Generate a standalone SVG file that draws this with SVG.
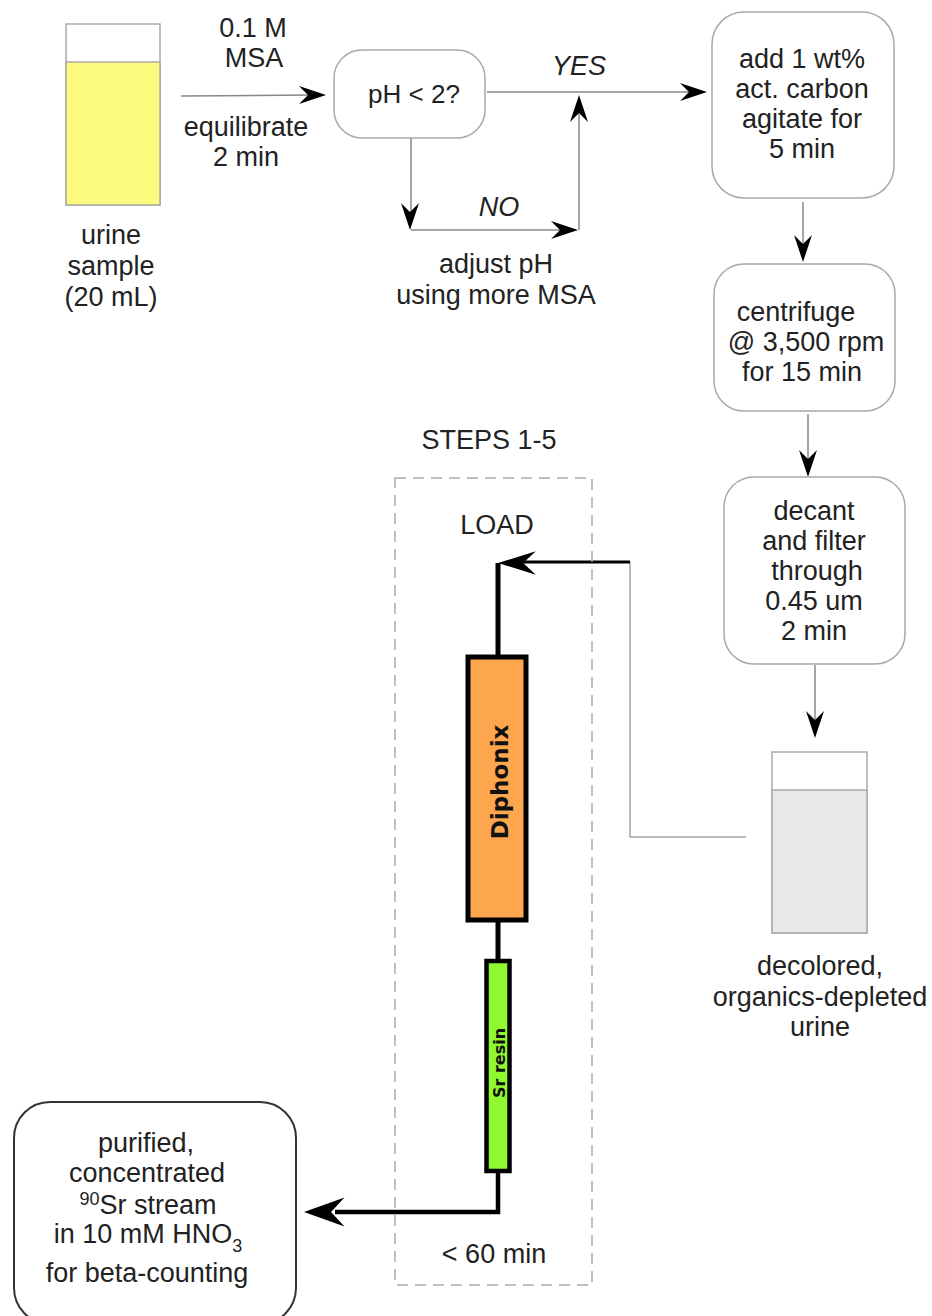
<svg xmlns="http://www.w3.org/2000/svg" width="932" height="1316" viewBox="0 0 932 1316">
<style>
text{font-family:"Liberation Sans",Arial,sans-serif;font-size:27px;fill:#222;text-anchor:middle}
.i{font-style:italic}
.box{fill:#fff;stroke:#a8a8a8;stroke-width:1.5}
.l{fill:none;stroke:#888;stroke-width:1.5}
.c{fill:none;stroke:#000;stroke-width:3}
.t{fill:none;stroke:#000;stroke-width:5}
.col{stroke:#000;stroke-width:5}
.v{stroke:#aaa;stroke-width:1.5}
</style>
<defs>
<path id="ah" d="M0 0L-27 -9L-18 0L-27 9Z" fill="#000"/>
</defs>
<rect width="932" height="1316" fill="#fff"/>
<g id="connectors">
<path class="l" d="M181 96L310 95"/><use href="#ah" transform="translate(326,95)"/>
<path class="l" d="M487 92H690"/><use href="#ah" transform="translate(707,92)"/>
<path class="l" d="M411 138V215"/><use href="#ah" transform="translate(410,230) rotate(90)"/>
<path class="l" d="M411 230H562"/><use href="#ah" transform="translate(578,230)"/>
<path class="l" d="M579 230V110"/><use href="#ah" transform="translate(579,95) rotate(-90)"/>
<path class="l" d="M803 202V245"/><use href="#ah" transform="translate(803,262) rotate(90)"/>
<path class="l" d="M808 414V460"/><use href="#ah" transform="translate(808,477) rotate(90)"/>
<path class="l" d="M815 665V720"/><use href="#ah" transform="translate(815,738) rotate(90)"/>
<path d="M746 837H630V562" fill="none" stroke="#777" stroke-width="1"/>
<path class="c" d="M630 562H515"/><use href="#ah" transform="translate(498,563) rotate(180) scale(1.4,1.3)"/>
<path class="t" d="M498 563V657"/>
<path class="t" d="M498 920V960"/>
<path class="c" style="stroke-width:4.5" d="M498 1172V1212H335"/><use href="#ah" transform="translate(304,1212) rotate(180) scale(1.5,1.6)"/>
</g>
<g id="urine-sample">
<rect x="66" y="24" width="94" height="181" fill="#fff" class="v"/>
<rect x="66" y="62" width="94" height="143" fill="#fdfa80" class="v"/>
<text x="111" y="244">urine</text><text x="111" y="275">sample</text><text x="111" y="306">(20 mL)</text>
</g>
<g id="label-msa"><text x="253" y="37">0.1 M</text><text x="254" y="67">MSA</text><text x="246" y="136">equilibrate</text><text x="246" y="166">2 min</text></g>
<g id="ph-check"><rect class="box" x="334" y="50" width="151" height="88" rx="28"/><text x="414" y="103" style="font-size:26px">pH &lt; 2?</text></g>
<g id="label-yes"><text class="i" x="579" y="75">YES</text></g>
<g id="label-no"><text class="i" x="499" y="216">NO</text></g>
<g id="label-adjust"><text x="496" y="273">adjust pH</text><text x="496" y="304">using more MSA</text></g>
<g id="add-carbon"><rect class="box" x="712" y="12" width="182" height="186" rx="32"/><text x="802" y="68">add 1 wt%</text><text x="802" y="98">act. carbon</text><text x="802" y="128">agitate for</text><text x="802" y="158">5 min</text></g>
<g id="centrifuge"><rect class="box" x="714" y="264" width="181" height="147" rx="30"/><text x="796" y="321">centrifuge</text><text x="806" y="351">@ 3,500 rpm</text><text x="802" y="381">for 15 min</text></g>
<g id="decant"><rect class="box" x="724" y="477" width="181" height="187" rx="30"/><text x="814" y="520">decant</text><text x="814" y="550">and filter</text><text x="817" y="580">through</text><text x="814" y="610">0.45 um</text><text x="814" y="640">2 min</text></g>
<g id="decolored-urine">
<rect x="772" y="752" width="95" height="181" fill="#fff" class="v"/>
<rect x="772" y="790" width="95" height="143" fill="#e8e8e8" class="v"/>
<text x="820" y="975">decolored,</text><text x="820" y="1006">organics-depleted</text><text x="820" y="1036">urine</text>
</g>
<g id="steps-box"><rect x="395" y="478" width="197" height="807" fill="none" stroke="#aaa" stroke-width="1.5" stroke-dasharray="11 7"/><text x="489" y="449">STEPS 1-5</text><text x="497" y="534">LOAD</text><text x="494" y="1263">&lt; 60 min</text></g>
<g id="diphonix"><rect class="col" x="468" y="657" width="58" height="263" fill="#fda64e"/><text transform="translate(508,782) rotate(-90)" style="font-family:'DejaVu Sans',sans-serif;font-weight:700;font-size:23px;fill:#111">Diphonix</text></g>
<g id="sr-resin"><rect class="col" style="stroke-width:4.5" x="486.500" y="961" width="23" height="210" fill="#90f82e"/><text transform="translate(505,1063) rotate(-90)" style="font-family:'DejaVu Sans',sans-serif;font-weight:700;font-size:16px;fill:#111">Sr resin</text></g>
<g id="purified"><rect x="14" y="1102" width="282" height="222" rx="36" fill="#fff" stroke="#333" stroke-width="2"/>
<text x="146" y="1152">purified,</text><text x="147" y="1182">concentrated</text>
<text x="148" y="1214"><tspan dy="-9" font-size="18">90</tspan><tspan dy="9">Sr stream</tspan></text>
<text x="148" y="1243">in 10 mM HNO<tspan dy="9" font-size="18">3</tspan></text>
<text x="147" y="1282">for beta-counting</text></g>
</svg>
